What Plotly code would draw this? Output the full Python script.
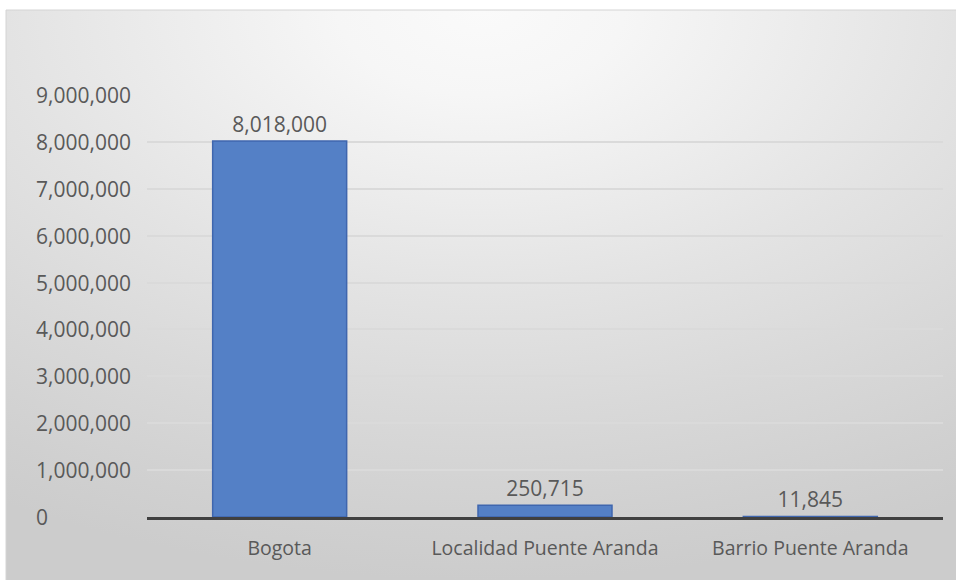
import plotly.graph_objects as go
import urllib.parse

categories = ["Bogota", "Localidad Puente Aranda", "Barrio Puente Aranda"]
values = [8018000, 250715, 11845]
value_labels = ["8,018,000", "250,715", "11,845"]
y_ticks = [0, 1000000, 2000000, 3000000, 4000000, 5000000, 6000000, 7000000, 8000000, 9000000]
y_tick_labels = ["0", "1,000,000", "2,000,000", "3,000,000", "4,000,000", "5,000,000",
                 "6,000,000", "7,000,000", "8,000,000", "9,000,000"]

W, H = 956, 580
L, R, T, B = 147, 13, 95, 63
pw, ph = W - L - R, H - T - B

def px_to_paper_x(px):
    return (px - L) / pw

def px_to_paper_y(py):
    return (H - B - py) / ph

svg = (
    '<svg xmlns="http://www.w3.org/2000/svg" width="951" height="570" viewBox="0 0 1 1" preserveAspectRatio="none">'
    '<defs><radialGradient id="g" cx="0.5" cy="0" r="1" gradientUnits="objectBoundingBox">'
    '<stop offset="0" stop-color="#fafafa"/>'
    '<stop offset="0.15" stop-color="#f6f6f6"/>'
    '<stop offset="0.3" stop-color="#eeeeee"/>'
    '<stop offset="0.5" stop-color="#e3e3e3"/>'
    '<stop offset="0.7" stop-color="#d9d9d9"/>'
    '<stop offset="0.9" stop-color="#d0d0d0"/>'
    '<stop offset="1" stop-color="#cccccc"/>'
    '</radialGradient></defs>'
    '<rect x="0" y="0" width="1" height="1" fill="url(#g)"/></svg>'
)
src = "data:image/svg+xml;charset=utf-8," + urllib.parse.quote(svg)

font_family = "Open Sans, Noto Sans, sans-serif"
text_color = "#595959"
fs_num = 21
fs_cat = 19.5

fig = go.Figure()
fig.add_trace(go.Bar(
    x=categories, y=values,
    marker=dict(color="#5480C6", line=dict(color="#3F66AE", width=1.5)),
    text=value_labels, textposition="outside", cliponaxis=False,
    textfont=dict(family=font_family, size=fs_num, color=text_color),
    width=0.505, hoverinfo="skip",
))

x0, x1 = px_to_paper_x(6), px_to_paper_x(956)
y0, y1 = px_to_paper_y(580), px_to_paper_y(10)

fig.add_layout_image(dict(
    source=src, xref="paper", yref="paper",
    x=x0, y=y1, sizex=x1 - x0, sizey=y1 - y0,
    xanchor="left", yanchor="top", sizing="stretch", layer="below",
))
fig.add_shape(type="rect", xref="paper", yref="paper",
              x0=x0, x1=x1 + 0.01, y0=y0 - 0.01, y1=y1,
              line=dict(color="#d4d4d4", width=1), fillcolor="rgba(0,0,0,0)", layer="below")

for v, lab in zip(y_ticks, y_tick_labels):
    fig.add_annotation(x=px_to_paper_x(34), xref="paper", y=v, yref="y",
                       text=lab, showarrow=False, xanchor="left", yanchor="middle",
                       font=dict(family=font_family, size=fs_num, color=text_color))

fig.update_layout(
    width=W, height=H,
    margin=dict(l=L, r=R, t=T, b=B),
    paper_bgcolor="white", plot_bgcolor="rgba(0,0,0,0)",
    showlegend=False,
    font=dict(family=font_family, size=fs_cat, color=text_color),
)
fig.update_xaxes(
    showgrid=False, showline=True, linecolor="#404040", linewidth=3,
    ticks="outside", ticklen=12, tickcolor="rgba(0,0,0,0)",
    tickfont=dict(family=font_family, size=fs_cat, color=text_color),
    fixedrange=True,
)
fig.update_yaxes(
    range=[0, 9000000], tickvals=y_ticks, showticklabels=False,
    showgrid=True, gridcolor="#dadada", gridwidth=1.5, zeroline=False,
    fixedrange=True,
)

fig.write_html("out.html")
